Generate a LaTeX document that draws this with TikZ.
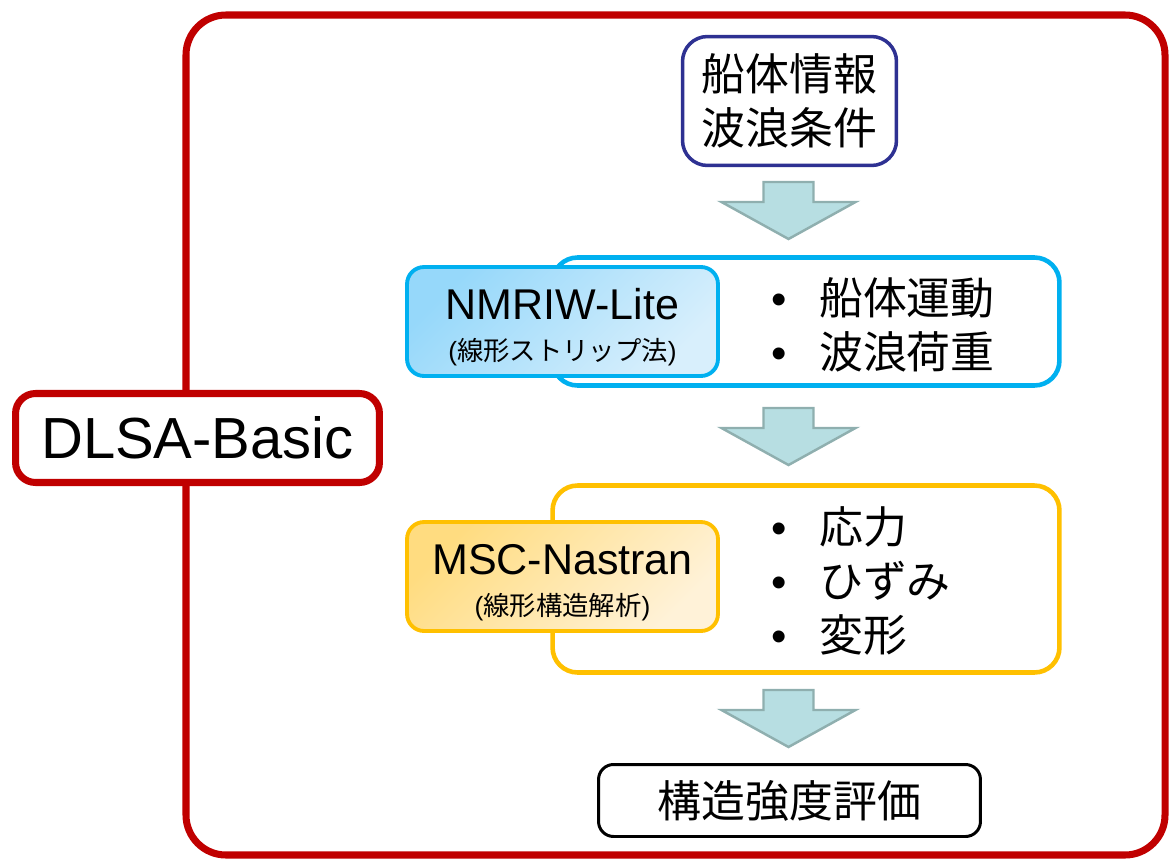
\documentclass[tikz,border=0pt]{standalone}
\usepackage{fontspec}
\setmainfont{Liberation Sans}
\newfontfamily\jp{Noto Sans CJK JP}
\definecolor{dlsared}{HTML}{C00000}
\definecolor{infoblue}{HTML}{2E3192}
\definecolor{stripblue}{HTML}{00B0F0}
\definecolor{stripdark}{HTML}{96D8FA}
\definecolor{striplight}{HTML}{D8EFFC}
\definecolor{femorange}{HTML}{FFC000}
\definecolor{femdark}{HTML}{FFDC80}
\definecolor{femlight}{HTML}{FFF2D8}
\definecolor{arrowfill}{HTML}{B7DEE2}
\definecolor{arrowline}{HTML}{8FAFAF}
\tikzset{>=stealth,
  redbox/.style={draw=dlsared, line width=4pt, fill=white, rounded corners=0.4cm, inner sep=0pt},
  stepbox/.style={draw, fill=white, line width=2.6pt, rounded corners=0.5cm, inner sep=0pt,
    minimum width=10.14cm},
  toolbox/.style={line width=2.2pt, rounded corners=0.34cm, inner sep=0pt, align=center,
    minimum width=6.22cm, minimum height=2.18cm, font=\fontsize{24.5}{23.3}\selectfont},
  jptext/.style={font=\fontsize{25}{30.5}\selectfont\jp},
  flowarrow/.pic={
    \draw[fill=arrowfill, draw=arrowline, line width=1.4pt]
      (-25,0) -- (25,0) -- (25,20) -- (67,20) -- (0,57) -- (-67,20) -- (-25,20) -- cycle;}
}
\newcommand{\bul}{{\rmfamily •}\hspace{18.5pt}}
\begin{document}
\begin{tikzpicture}[x=0.02cm, y=-0.02cm]
\useasboundingbox (0,0) rectangle (1176,865);
\draw[dlsared, line width=4pt, rounded corners=0.8cm] (186,15) rectangle (1165,855);
\node[redbox, minimum width=7.28cm, minimum height=1.78cm,
  font=\fontsize{33}{36}\selectfont] (dlsa) at (197.5,438) {DLSA-Basic};
\node[draw=infoblue, line width=2pt, rounded corners=0.5cm, fill=white, align=center,
  minimum width=4.28cm, minimum height=2.58cm, inner sep=0pt, jptext] (info) at (789.5,101)
  {船体情報\\波浪条件};
\pic at (788.5,182) {flowarrow};
\node[stepbox, draw=stripblue, minimum height=2.56cm] (strip) at (806,321.5) {};
\node[toolbox, draw=stripblue, top color=stripdark, bottom color=striplight,
  shading angle=45] (nmriw) at (562.5,321.5)
  {\rule{0pt}{24.5pt}NMRIW-Lite\\{\fontsize{15}{18}\selectfont (\jp 線形ストリップ法\rmfamily )}};
\node[anchor=west, align=left, jptext] (motion) at (765,325)
  {\bul 船体運動\\\bul 波浪荷重};
\pic at (788.5,408) {flowarrow};
\node[stepbox, draw=femorange, minimum height=3.74cm] (fem) at (806,579) {};
\node[toolbox, draw=femorange, top color=femdark, bottom color=femlight,
  shading angle=45] (msc) at (562.5,576.5)
  {\rule{0pt}{24.5pt}MSC-Nastran\\{\fontsize{15}{18}\selectfont (\jp 線形構造解析\rmfamily )}};
\node[anchor=west, align=left, jptext] (stress) at (765,581)
  {\bul 応力\\\bul ひずみ\\\bul 変形};
\pic at (788.5,690) {flowarrow};
\node[draw, line width=1.7pt, rounded corners=0.3cm, fill=white, minimum width=7.64cm,
  minimum height=1.44cm, inner sep=0pt, jptext] (eval) at (789.5,800.5) {構造強度評価};
\end{tikzpicture}
\end{document}
